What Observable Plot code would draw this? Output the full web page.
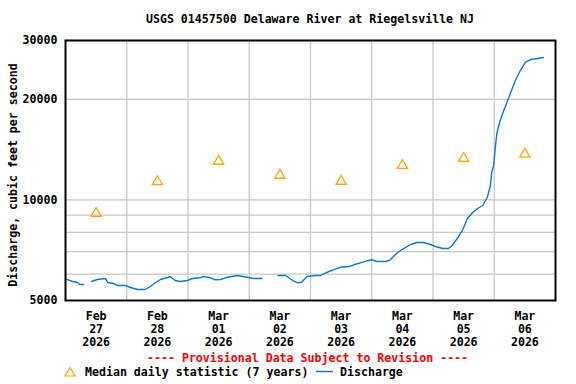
<!DOCTYPE html>
<html><head><meta charset="utf-8">
<script src="https://cdn.jsdelivr.net/npm/d3@7"></script>
<script src="https://cdn.jsdelivr.net/npm/@observablehq/plot@0.6"></script>
<style>
body{margin:0;background:#fff;}
#wrap{position:relative;width:576px;height:384px;font-family:"DejaVu Sans Mono",monospace;font-weight:bold;font-size:11.6px;color:#000;}
.t{position:absolute;line-height:13px;white-space:pre;}
#chart{position:absolute;left:0;top:0;}
#leg{position:absolute;left:0;top:360px;}
</style></head><body><div id="wrap">
<div id="chart"></div>
<div class="t" style="top:13px;left:65px;width:490px;text-align:center;">USGS 01457500 Delaware River at Riegelsville NJ</div>
<div class="t" style="top:352px;left:147px;color:#ff0000;">---- Provisional Data Subject to Revision ----</div>
<svg id="leg" width="576" height="24">
  <polygon points="70,7.5 65,16 75,16" fill="none" stroke="#ffa500" stroke-width="1.2"/>
  <line x1="316" y1="11.5" x2="333" y2="11.5" stroke="#0a78cc" stroke-width="1.5"/>
</svg>
<div class="t" style="top:366px;left:85px;">Median daily statistic (7 years)</div>
<div class="t" style="top:366px;left:340px;">Discharge</div>
</div>
<script>
const dischargeTimes = [
"2026-02-27T00:00Z","2026-02-27T02:45Z","2026-02-27T04:45Z","2026-02-27T05:30Z","2026-02-27T07:00Z","2026-02-27T08:30Z",
"2026-02-27T10:15Z","2026-02-27T12:30Z","2026-02-27T15:45Z","2026-02-27T16:30Z","2026-02-27T18:45Z","2026-02-27T20:30Z","2026-02-27T23:30Z",
"2026-02-28T01:30Z","2026-02-28T04:15Z","2026-02-28T07:15Z","2026-02-28T09:15Z","2026-02-28T11:15Z","2026-02-28T13:15Z","2026-02-28T16:00Z",
"2026-02-28T17:00Z","2026-02-28T19:00Z","2026-02-28T21:00Z","2026-02-28T23:45Z",
"2026-03-01T01:45Z","2026-03-01T04:45Z","2026-03-01T06:00Z","2026-03-01T08:45Z","2026-03-01T10:45Z","2026-03-01T12:45Z","2026-03-01T15:30Z",
"2026-03-01T19:15Z","2026-03-01T23:15Z",
"2026-03-02T01:45Z","2026-03-02T05:00Z","2026-03-02T08:00Z","2026-03-02T11:15Z","2026-03-02T14:15Z","2026-03-02T15:30Z","2026-03-02T17:30Z",
"2026-03-02T19:00Z","2026-03-02T20:30Z","2026-03-02T21:30Z","2026-03-02T22:45Z",
"2026-03-03T02:00Z","2026-03-03T04:00Z","2026-03-03T05:15Z","2026-03-03T07:15Z","2026-03-03T09:00Z","2026-03-03T11:45Z","2026-03-03T15:00Z",
"2026-03-03T17:00Z","2026-03-03T19:30Z","2026-03-03T22:15Z",
"2026-03-04T00:15Z","2026-03-04T02:00Z","2026-03-04T05:30Z","2026-03-04T07:15Z","2026-03-04T09:15Z","2026-03-04T11:15Z","2026-03-04T13:15Z",
"2026-03-04T15:15Z","2026-03-04T17:45Z","2026-03-04T20:15Z","2026-03-04T23:00Z",
"2026-03-05T01:00Z","2026-03-05T03:45Z","2026-03-05T06:00Z","2026-03-05T07:30Z","2026-03-05T09:30Z","2026-03-05T11:30Z","2026-03-05T13:30Z",
"2026-03-05T15:30Z","2026-03-05T17:30Z","2026-03-05T19:30Z","2026-03-05T21:15Z","2026-03-05T22:30Z","2026-03-05T23:00Z","2026-03-05T23:45Z",
"2026-03-06T00:30Z","2026-03-06T01:00Z","2026-03-06T02:00Z","2026-03-06T03:00Z","2026-03-06T04:30Z","2026-03-06T06:30Z","2026-03-06T08:15Z",
"2026-03-06T10:15Z","2026-03-06T12:15Z","2026-03-06T14:15Z","2026-03-06T17:00Z","2026-03-06T19:15Z"
];
const dischargeValues = [
5806,5699,5660,5583,5583,null,
5699,5779,5818,5660,5622,5544,5544,
5469,5394,5394,5506,5660,5779,5859,
5899,5739,5699,5739,
5818,5847,5899,5847,5767,5779,5871,
5940,5871,
5818,5818,null,5940,5940,5847,5711,
5648,5672,5779,5899,
5940,5940,6010,6106,6178,6290,6320,
6395,6483,6573,
6619,6541,6541,6619,6865,7057,7204,
7355,7457,7457,7355,
7254,7155,7155,7304,7665,8100,8798,
9169,9425,9622,10168,11044,12080,12676,
14550,15804,16931,17890,19166,21006,22770,
24395,25830,26316,26500,26682
];
const medianTimes = ["2026-02-27T12:00Z","2026-02-28T12:00Z","2026-03-01T12:00Z","2026-03-02T12:00Z","2026-03-03T12:00Z","2026-03-04T12:00Z","2026-03-05T12:00Z","2026-03-06T12:00Z"];
const medianValues = [9112, 11338, 13048, 11848, 11369, 12685, 13312, 13703];
const xTickLabels = ["Feb\n27\n2026","Feb\n28\n2026","Mar\n01\n2026","Mar\n02\n2026","Mar\n03\n2026","Mar\n04\n2026","Mar\n05\n2026","Mar\n06\n2026"];
const dayBoundaries = ["2026-02-28T00:00Z","2026-03-01T00:00Z","2026-03-02T00:00Z","2026-03-03T00:00Z","2026-03-04T00:00Z","2026-03-05T00:00Z","2026-03-06T00:00Z"];
const xDomain = ["2026-02-27T00:00Z","2026-03-07T00:00Z"];
const yTicks = [5000, 10000, 20000, 30000];
const yGridValues = [6000, 7000, 8000, 9000, 10000, 20000];
const yDomain = [5000, 30000];
const yLabel = "Discharge, cubic feet per second";

const discharge = dischargeTimes.map((t, i) => ({t: new Date(t), v: dischargeValues[i]}));
const median = medianTimes.map((t, i) => ({t: new Date(t), v: medianValues[i]}));
const tickDates = medianTimes.map(t => new Date(t));
const gridDates = dayBoundaries.map(t => new Date(t));

const chart = Plot.plot({
  width: 576, height: 384,
  marginLeft: 65, marginRight: 21, marginTop: 40, marginBottom: 84,
  style: {fontFamily: '"DejaVu Sans Mono", monospace', fontSize: "11.6px", fontWeight: "bold", background: "transparent", color: "#000"},
  x: {type: "utc", domain: xDomain.map(t => new Date(t))},
  y: {type: "log", domain: yDomain},
  marks: [
    Plot.gridX(gridDates, {stroke: "#c8c8c8", strokeOpacity: 1, strokeWidth: 1.3}),
    Plot.gridY(yGridValues, {stroke: "#c8c8c8", strokeOpacity: 1, strokeWidth: 1.3}),
    Plot.axisX(tickDates, {tickSize: 0, tickPadding: 10, lineHeight: 1.12, label: null,
      tickFormat: d => xTickLabels[tickDates.findIndex(t => +t === +d)]}),
    Plot.axisY(yTicks, {tickSize: 0, tickPadding: 8, label: null, tickFormat: d3.format("d")}),
    Plot.lineY(discharge, {x: "t", y: "v", stroke: "#0a78cc", strokeWidth: 1.4}),
    Plot.dot(median, {x: "t", y: "v", symbol: "triangle", r: 3.8, stroke: "#ffa500", strokeWidth: 1.3, fill: "none"}),
    Plot.frame({stroke: "#000", strokeWidth: 2}),
    Plot.text([yLabel], {frameAnchor: "left", textAnchor: "middle", lineAnchor: "middle", rotate: -90, dx: -52.7, dy: 4.5, text: d => d, fill: "#000"})
  ]
});
document.getElementById("chart").appendChild(chart);
</script>
</body></html>
